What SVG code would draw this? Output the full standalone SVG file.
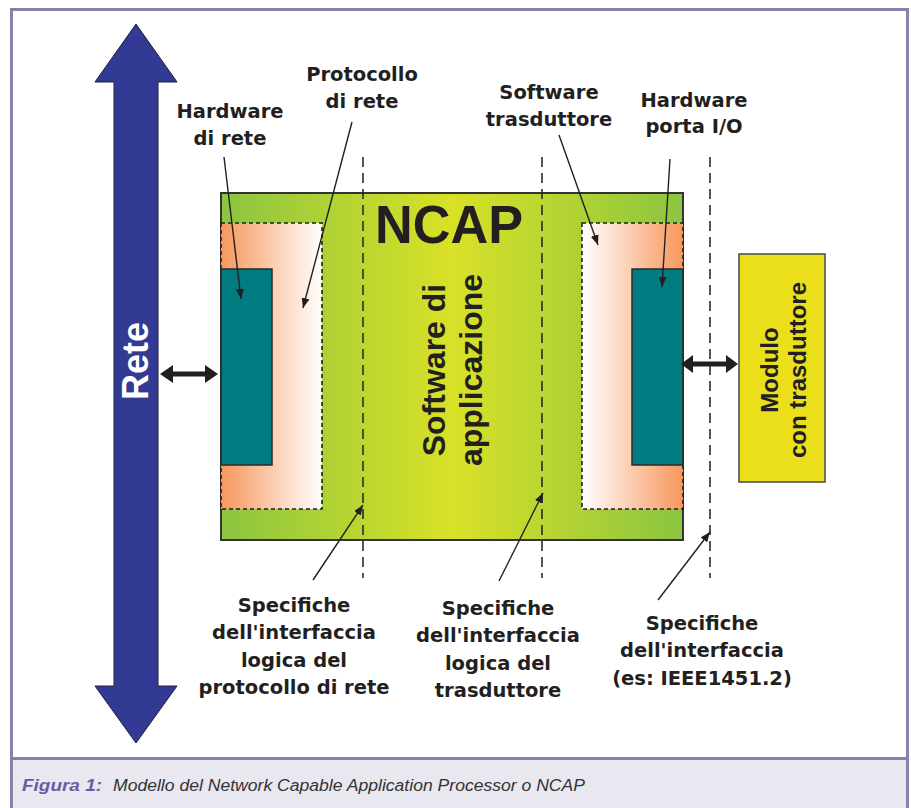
<svg xmlns="http://www.w3.org/2000/svg" width="911" height="808" viewBox="0 0 911 808">
<defs>
<linearGradient id="gGreen" x1="0" y1="0" x2="1" y2="0">
<stop offset="0" stop-color="#8bc540"/>
<stop offset="0.5" stop-color="#d9e127"/>
<stop offset="1" stop-color="#8bc540"/>
</linearGradient>
<linearGradient id="gOrL" x1="0" y1="0" x2="1" y2="0">
<stop offset="0" stop-color="#f7975c"/>
<stop offset="1" stop-color="#ffffff"/>
</linearGradient>
<linearGradient id="gOrR" x1="0" y1="0" x2="1" y2="0">
<stop offset="0" stop-color="#ffffff"/>
<stop offset="1" stop-color="#f7975c"/>
</linearGradient>
<marker id="ah" viewBox="0 0 10 8" refX="10" refY="4" markerWidth="10" markerHeight="8" markerUnits="userSpaceOnUse" orient="auto">
<path d="M0,0 L10,4 L0,8 Z" fill="#231f20"/>
</marker>
</defs>
<style>
.lbl{font-family:"DejaVu Sans",sans-serif;font-weight:bold;font-size:19.5px;fill:#231f20;text-anchor:middle}
.top{font-family:"DejaVu Sans",sans-serif;font-weight:bold;font-size:19.5px;fill:#231f20;text-anchor:middle}
.dash{stroke:#231f20;stroke-width:1.5;stroke-dasharray:10 6;fill:none}
.lead{stroke:#231f20;stroke-width:1.4;fill:none;marker-end:url(#ah)}
.teal{fill:#007b7f;stroke:#2a2a2a;stroke-width:1.5}
.orng{stroke:#231f20;stroke-width:1.6;stroke-dasharray:4 3}
.dbl{fill:#231f20}
</style>
<g id="frame">
<rect x="0" y="0" width="911" height="808" fill="#ffffff"/>
<rect x="11.5" y="758.5" width="896" height="52" fill="#e9e7ef"/>
<path d="M11.5,812 V9.5 H907.5 V812 M11.5,758.5 H907.5" fill="none" stroke="#8a80ab" stroke-width="3"/>
<text x="22" y="791" font-family="Liberation Sans, sans-serif" font-size="16" font-style="italic" font-weight="bold" fill="#6a5ca4" textLength="80" lengthAdjust="spacingAndGlyphs">Figura 1:</text>
<text x="113" y="791" font-family="Liberation Sans, sans-serif" font-size="16" font-style="italic" fill="#333333" textLength="472" lengthAdjust="spacingAndGlyphs">Modello del Network Capable Application Processor o NCAP</text>
</g>
<g id="rete">
<polygon points="136,24 177,82 158,82 158,686 177,686 136,743 95,686 114,686 114,82 95,82" fill="#333a94" stroke="#1e1e3a" stroke-width="1"/>
<text transform="translate(148,361) rotate(-90)" text-anchor="middle" font-family="Liberation Sans, sans-serif" font-weight="bold" font-size="36" fill="#ffffff">Rete</text>
</g>
<g id="ncap">
<rect x="221" y="193" width="462" height="347" fill="url(#gGreen)" stroke="#333333" stroke-width="2"/>
<text x="449" y="243" text-anchor="middle" font-family="Liberation Sans, sans-serif" font-weight="bold" font-size="54" fill="#231f20" textLength="148" lengthAdjust="spacingAndGlyphs">NCAP</text>
</g>
<g id="protocollo-rete">
<rect class="orng" x="221" y="223" width="101" height="286" fill="url(#gOrL)"/>
</g>
<g id="hardware-rete">
<rect class="teal" x="221" y="269" width="51" height="196"/>
</g>
<g id="software-trasduttore">
<rect class="orng" x="582" y="223" width="101" height="286" fill="url(#gOrR)"/>
</g>
<g id="hardware-porta">
<rect class="teal" x="632" y="269" width="51" height="196"/>
</g>
<g id="software-applicazione">
<text transform="translate(445,370) rotate(-90)" text-anchor="middle" font-family="Liberation Sans, sans-serif" font-weight="bold" font-size="32" fill="#231f20">Software di</text>
<text transform="translate(482,370) rotate(-90)" text-anchor="middle" font-family="Liberation Sans, sans-serif" font-weight="bold" font-size="32" fill="#231f20">applicazione</text>
</g>
<g id="modulo">
<rect x="739" y="254" width="86" height="228" fill="#ebdf1c" stroke="#4a4a4a" stroke-width="1.5"/>
<text transform="translate(778,370) rotate(-90)" text-anchor="middle" font-family="Liberation Sans, sans-serif" font-weight="bold" font-size="24" fill="#231f20">Modulo</text>
<text transform="translate(806,370) rotate(-90)" text-anchor="middle" font-family="Liberation Sans, sans-serif" font-weight="bold" font-size="24" fill="#231f20">con trasduttore</text>
</g>
<g id="connectors">
<path class="dash" d="M363,157 V578"/>
<path class="dash" d="M542,157 V578"/>
<path class="dash" d="M710,157 V578"/>
<path class="dbl" d="M160,374 L173,365 L173,371.5 L205,371.5 L205,365 L218,374 L205,383 L205,376.5 L173,376.5 L173,383 Z"/>
<path class="dbl" d="M681,364 L693,355 L693,361.5 L726,361.5 L726,355 L738,364 L726,373 L726,366.5 L693,366.5 L693,373 Z"/>
<path class="lead" d="M224,157 L241,299"/>
<path class="lead" d="M352,122 L303,308"/>
<path class="lead" d="M559,135 L598,245"/>
<path class="lead" d="M670,159 L662,287"/>
<path class="lead" d="M313,580 L363,505"/>
<path class="lead" d="M499,581 L543,493"/>
<path class="lead" d="M658,600 L710,532"/>
</g>
<g id="label-hardware-rete">
<text class="top" x="230" y="118">Hardware</text>
<text class="top" x="230" y="145">di rete</text>
</g>
<g id="label-protocollo">
<text class="top" x="362" y="81">Protocollo</text>
<text class="top" x="362" y="108">di rete</text>
</g>
<g id="label-software-trasduttore">
<text class="top" x="549" y="99">Software</text>
<text class="top" x="549" y="126">trasduttore</text>
</g>
<g id="label-hardware-porta">
<text class="top" x="694" y="107">Hardware</text>
<text class="top" x="694" y="133">porta I/O</text>
</g>
<g id="label-spec-protocollo">
<text class="lbl" x="294" y="612">Specifiche</text>
<text class="lbl" x="294" y="639">dell'interfaccia</text>
<text class="lbl" x="294" y="667">logica del</text>
<text class="lbl" x="294" y="694">protocollo di rete</text>
</g>
<g id="label-spec-trasduttore">
<text class="lbl" x="498" y="615">Specifiche</text>
<text class="lbl" x="498" y="642">dell'interfaccia</text>
<text class="lbl" x="498" y="670">logica del</text>
<text class="lbl" x="498" y="697">trasduttore</text>
</g>
<g id="label-spec-interfaccia">
<text class="lbl" x="702" y="630">Specifiche</text>
<text class="lbl" x="702" y="657">dell'interfaccia</text>
<text class="lbl" x="702" y="685">(es: IEEE1451.2)</text>
</g>
</svg>
